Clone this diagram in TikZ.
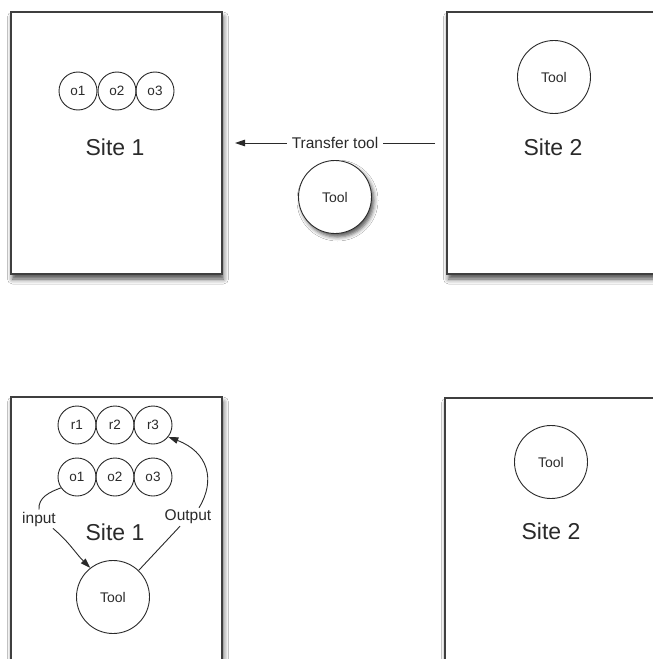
\documentclass[tikz,border=0pt]{standalone}
\usepackage{fontspec}
\setmainfont{Liberation Sans}
\usetikzlibrary{shadows.blur,arrows.meta}
\definecolor{ink}{HTML}{2A2A2A}
\begin{document}
\begin{tikzpicture}[x=1bp,y=-1bp,
  sitebox/.style={draw=ink!90, line width=1.4bp, fill=white, rectangle, inner sep=0pt,
    blur shadow={shadow xshift=1.5bp, shadow yshift=-5bp, shadow blur radius=5bp, shadow opacity=70}},
  sitelabel/.style={font=\fontsize{23bp}{26bp}\selectfont, text=ink},
  obj/.style={circle, draw=ink, line width=0.9bp, minimum size=38bp, inner sep=0pt,
    font=\fontsize{13.5bp}{15bp}\selectfont, text=ink},
  toolc/.style={circle, draw=ink, line width=0.9bp, fill=white, minimum size=73bp, inner sep=0pt,
    font=\fontsize{14bp}{16bp}\selectfont, text=ink},
  lbl/.style={fill=white, inner sep=2bp, font=\fontsize{15.5bp}{17bp}\selectfont, text=ink},
  conn/.style={draw=ink, line width=0.9bp},
  tip/.style={-{Triangle[length=10bp,width=6.5bp]}}
]
\useasboundingbox (0,0) rectangle (653,659);
\clip (0,0) rectangle (653,659);
\fill[white] (0,0) rectangle (653,659);

% top row
\node[sitebox, minimum width=211bp, minimum height=262bp] (s1) at (116.5,143) {};
\node[sitebox, minimum width=253bp, minimum height=262bp] (s2) at (573.5,143) {};
\node[sitelabel] (s1l) at (115,147) {Site 1};
\node[sitelabel] (s2l) at (553,147) {Site 2};
\node[obj] (o1) at (78,91) {o1};
\node[obj] (o2) at (117,91) {o2};
\node[obj] (o3) at (155,91) {o3};
\node[toolc] (t2) at (554,77) {Tool};

\node[toolc, blur shadow={shadow xshift=2.5bp, shadow yshift=-3.5bp, shadow blur radius=4bp, shadow opacity=65}] (tm) at (335,197) {Tool};
\coordinate (trA) at (435,143);
\coordinate (trB) at (235,143);
\draw[conn, tip] (trA) -- node[lbl, inner xsep=5bp] {Transfer tool} (trB);

% bottom row
\node[sitebox, minimum width=211bp, minimum height=303bp] (s3) at (116.5,548.5) {};
\node[sitebox, minimum width=255bp, minimum height=302bp] (s4) at (572.5,549) {};
\node[sitelabel] (s3l) at (115,532) {Site 1};
\node[sitelabel] (s4l) at (551,531) {Site 2};
\node[obj] (r1) at (77,425) {r1};
\node[obj] (r2) at (115,425) {r2};
\node[obj] (r3) at (153,425) {r3};
\node[obj] (b1) at (77,477) {o1};
\node[obj] (b2) at (115,477) {o2};
\node[obj] (b3) at (153,477) {o3};
\node[toolc] (t3) at (113,597) {Tool};
\node[toolc] (t4) at (551,462) {Tool};

\node[lbl] (inl) at (39,519) {input};
\node[lbl] (outl) at (188,517) {Output};
\draw[conn] (b1.214) to[out=200,in=95] (inl.north);
\draw[conn, tip] ([xshift=-5bp]inl.south east) to[out=-40,in=135] (t3.128);
\draw[conn] (t3.46) -- ([xshift=-8bp]outl.south);
\draw[conn, tip] ([xshift=11bp]outl.north) .. controls (216,480) and (208,452) .. (r3.-38);
\end{tikzpicture}
\end{document}
